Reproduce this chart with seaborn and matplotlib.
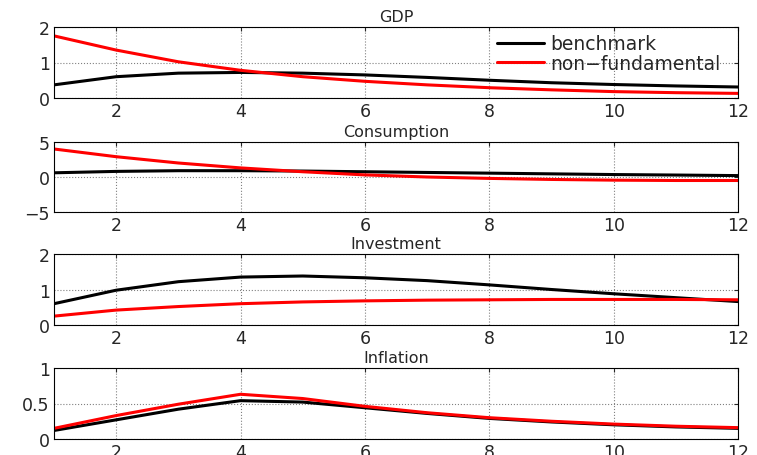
import numpy as np
import pandas as pd
import matplotlib
matplotlib.use("Agg")
import matplotlib.pyplot as plt
import seaborn as sns

# horizon
periods = list(range(1, 13))

# impulse responses
gdp_bench = [0.37, 0.60, 0.70, 0.72, 0.70, 0.65, 0.58, 0.50, 0.43, 0.38, 0.34, 0.31]
gdp_nonfund = [1.75, 1.35, 1.02, 0.78, 0.60, 0.47, 0.37, 0.29, 0.23, 0.18, 0.15, 0.13]

cons_bench = [0.6, 0.8, 0.9, 0.9, 0.85, 0.75, 0.65, 0.55, 0.45, 0.35, 0.28, 0.2]
cons_nonfund = [4.0, 2.9, 2.0, 1.3, 0.75, 0.3, 0.0, -0.2, -0.35, -0.45, -0.5, -0.5]

inv_bench = [0.60, 0.98, 1.22, 1.35, 1.38, 1.33, 1.25, 1.13, 1.00, 0.88, 0.77, 0.66]
inv_nonfund = [0.25, 0.42, 0.52, 0.60, 0.65, 0.68, 0.70, 0.71, 0.72, 0.72, 0.72, 0.71]

infl_bench = [0.12, 0.27, 0.42, 0.54, 0.52, 0.44, 0.36, 0.29, 0.24, 0.20, 0.17, 0.15]
infl_nonfund = [0.15, 0.33, 0.49, 0.63, 0.57, 0.46, 0.37, 0.30, 0.25, 0.21, 0.18, 0.16]

titles = ["GDP", "Consumption", "Investment", "Inflation"]
series = [(gdp_bench, gdp_nonfund), (cons_bench, cons_nonfund),
          (inv_bench, inv_nonfund), (infl_bench, infl_nonfund)]
ylims = [(0, 2), (-5, 5), (0, 2), (0, 1)]
yticks = [[0, 1, 2], [-5, 0, 5], [0, 1, 2], [0, 0.5, 1]]
yticklabels = [["0", "1", "2"], ["\u22125", "0", "5"], ["0", "1", "2"], ["0", "0.5", "1"]]
xticks = [2, 4, 6, 8, 10, 12]

sns.set_style("white")
plt.rcParams['font.family'] = ['DejaVu Sans']

fig = plt.figure(figsize=(7.57, 4.56), dpi=100)

# axes boxes in pixels: left, right, top, bottom
W, H = 757, 456
left, right = 54, 738
tops = [28, 143, 255, 369]
bottoms = [99, 213, 326, 440]

for i in range(4):
    ax = fig.add_axes([left / W, 1 - bottoms[i] / H,
                       (right - left) / W, (bottoms[i] - tops[i]) / H])
    df = pd.DataFrame({
        "period": periods * 2,
        "value": series[i][0] + series[i][1],
        "model": ["benchmark"] * 12 + ["non\u2212fundamental"] * 12,
    })
    sns.lineplot(data=df, x="period", y="value", hue="model",
                 palette=["black", "red"], linewidth=2.2, ax=ax,
                 legend=(i == 0))
    ax.set_xlim(1, 12)
    ax.set_ylim(*ylims[i])
    ax.set_xticks(xticks)
    ax.set_yticks(yticks[i])
    ax.set_yticklabels(yticklabels[i])
    ax.set_xlabel("")
    ax.set_ylabel("")
    ax.set_title(titles[i], fontsize=11.5, pad=4)
    ax.grid(True, linestyle=":", color="gray", linewidth=0.8)
    ax.tick_params(direction="in", length=3, labelsize=12.5, width=0.8,
                   top=True, right=True, pad=3)
    for s in ax.spines.values():
        s.set_color("black")
        s.set_linewidth(0.8)
    if i == 0:
        leg = ax.legend(loc="upper right", frameon=False, fontsize=13.5,
                        handlelength=2.5, borderaxespad=0.0,
                        labelspacing=0.0, handletextpad=0.3,
                        bbox_to_anchor=(0.985, 1.0))
        leg.set_title(None)

fig.savefig("out.png", dpi=100)
